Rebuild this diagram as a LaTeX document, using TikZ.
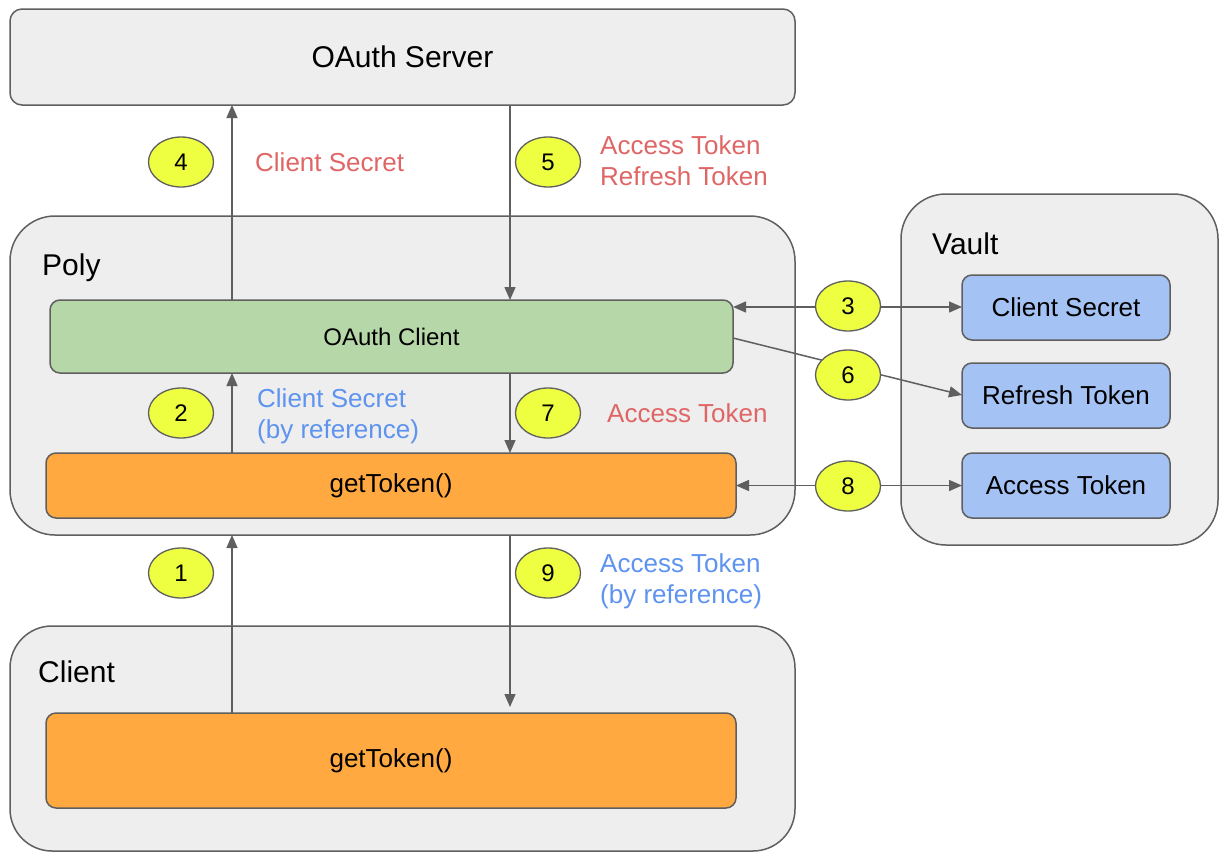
\documentclass[tikz,border=0pt]{standalone}
\usepackage{fontspec}
\setmainfont{Liberation Sans}
\usetikzlibrary{arrows.meta,shapes.geometric}
\definecolor{boxgray}{HTML}{EEEEEE}
\definecolor{edge}{HTML}{5F5F5F}
\definecolor{greenfill}{HTML}{B6D7A8}
\definecolor{orangefill}{HTML}{FFA940}
\definecolor{bluefill}{HTML}{A4C2F4}
\definecolor{yellowfill}{HTML}{EEFF41}
\definecolor{redtext}{HTML}{E06666}
\definecolor{bluetext}{HTML}{5E93F0}
\newcommand{\fs}[1]{\fontsize{#1}{#1}\selectfont}
\tikzset{
  container/.style={draw=edge,line width=1.5pt,fill=boxgray,rounded corners=#1,inner sep=0,outer sep=0},
  inbox/.style={draw=edge,line width=1.5pt,rounded corners=10pt,inner sep=0,outer sep=0},
  numb/.style={ellipse,draw=edge,line width=1.3pt,fill=yellowfill,minimum width=65pt,minimum height=50pt,inner sep=0,font=\fs{24}},
  arr/.style={draw=edge,line width=1.5pt,-{Triangle[length=13pt,width=11pt]}},
  darr/.style={draw=edge,line width=1.5pt,{Triangle[length=13pt,width=11pt]}-{Triangle[length=13pt,width=11pt]}},
  lbl/.style={anchor=west,align=left,inner sep=0,font=\fontsize{26}{31}\selectfont},
  title/.style={anchor=west,inner sep=0,font=\fs{30}}
}
\begin{document}
\begin{tikzpicture}[x=1pt,y=-1pt]
\useasboundingbox (0,0) rectangle (1221,852);
\clip (0,0) rectangle (1221,852);
\fill[white] (0,0) rectangle (1221,852);
% containers
\node[container=12pt,minimum width=785pt,minimum height=96pt,font=\fs{30}] (server) at (402.5,57) {OAuth Server};
\node[container=45pt,minimum width=785pt,minimum height=319pt] (poly) at (402.5,375.5) {};
\node[container=45pt,minimum width=317pt,minimum height=351pt] (vault) at (1059.5,369.5) {};
\node[container=42pt,minimum width=785pt,minimum height=225pt] (clientc) at (402.5,738.5) {};
\node[title] (polyt) at (42,268) {Poly};
\node[title] (vaultt) at (932,244) {Vault};
\node[title] (clientt) at (38,672) {Client};
% inner boxes
\node[inbox,fill=greenfill,minimum width=683pt,minimum height=73pt,font=\fs{24}] (oclient) at (391.5,336.5) {OAuth Client};
\node[inbox,fill=orangefill,minimum width=690pt,minimum height=65pt,font=\fs{26}] (gt1) at (391,485.5) {getToken()};
\node[inbox,fill=orangefill,minimum width=690pt,minimum height=95pt,font=\fs{26}] (gt2) at (391,760.5) {getToken()};
\node[inbox,fill=bluefill,minimum width=208pt,minimum height=65pt,font=\fs{26}] (vcs) at (1066,307.5) {Client Secret};
\node[inbox,fill=bluefill,minimum width=208pt,minimum height=65pt,font=\fs{26}] (vrt) at (1066,395.5) {Refresh Token};
\node[inbox,fill=bluefill,minimum width=208pt,minimum height=65pt,font=\fs{26}] (vat) at (1066,485.5) {Access Token};
% x positions
\coordinate (xa) at (232,0);
\coordinate (xb) at (510,0);
\coordinate (y3) at (0,307);
\coordinate (y6a) at (0,338);
\coordinate (y6b) at (0,395);
% vertical arrows
\draw[arr] (xa |- oclient.north) -- (xa |- server.south);
\draw[arr] (xb |- server.south) -- (xb |- oclient.north);
\draw[arr] (xa |- gt1.north) -- (xa |- oclient.south);
\draw[arr] (xb |- oclient.south) -- (xb |- gt1.north);
\draw[arr] (xa |- gt2.north) -- (xa |- poly.south);
\draw[arr,shorten >=6pt] (xb |- poly.south) -- (xb |- gt2.north);
% horizontal arrows
\draw[darr] (oclient.east |- y3) -- (vcs.west |- y3);
\draw[arr] (oclient.east |- y6a) -- (vrt.west |- y6b);
\draw[darr] (gt1.east) -- (vat.west);
% numbers
\node[numb] (n4) at (181,162) {4};
\node[numb] (n5) at (548,162) {5};
\node[numb] (n3) at (848,306) {3};
\node[numb] (n6) at (848,375) {6};
\node[numb] (n8) at (848,486) {8};
\node[numb] (n2) at (181,413) {2};
\node[numb] (n7) at (548,413) {7};
\node[numb] (n1) at (181,573) {1};
\node[numb] (n9) at (548,573) {9};
% labels
\node[lbl,text=redtext] (l4) at (255,162) {Client Secret};
\node[lbl,text=redtext] (l5) at (600,161) {Access Token\\Refresh Token};
\node[lbl,text=bluetext] (l2) at (257,416) {Client Secret\\(by reference)};
\node[lbl,text=redtext] (l7) at (607,413) {Access Token};
\node[lbl,text=bluetext] (l9) at (600,581) {Access Token\\(by reference)};
\end{tikzpicture}
\end{document}
